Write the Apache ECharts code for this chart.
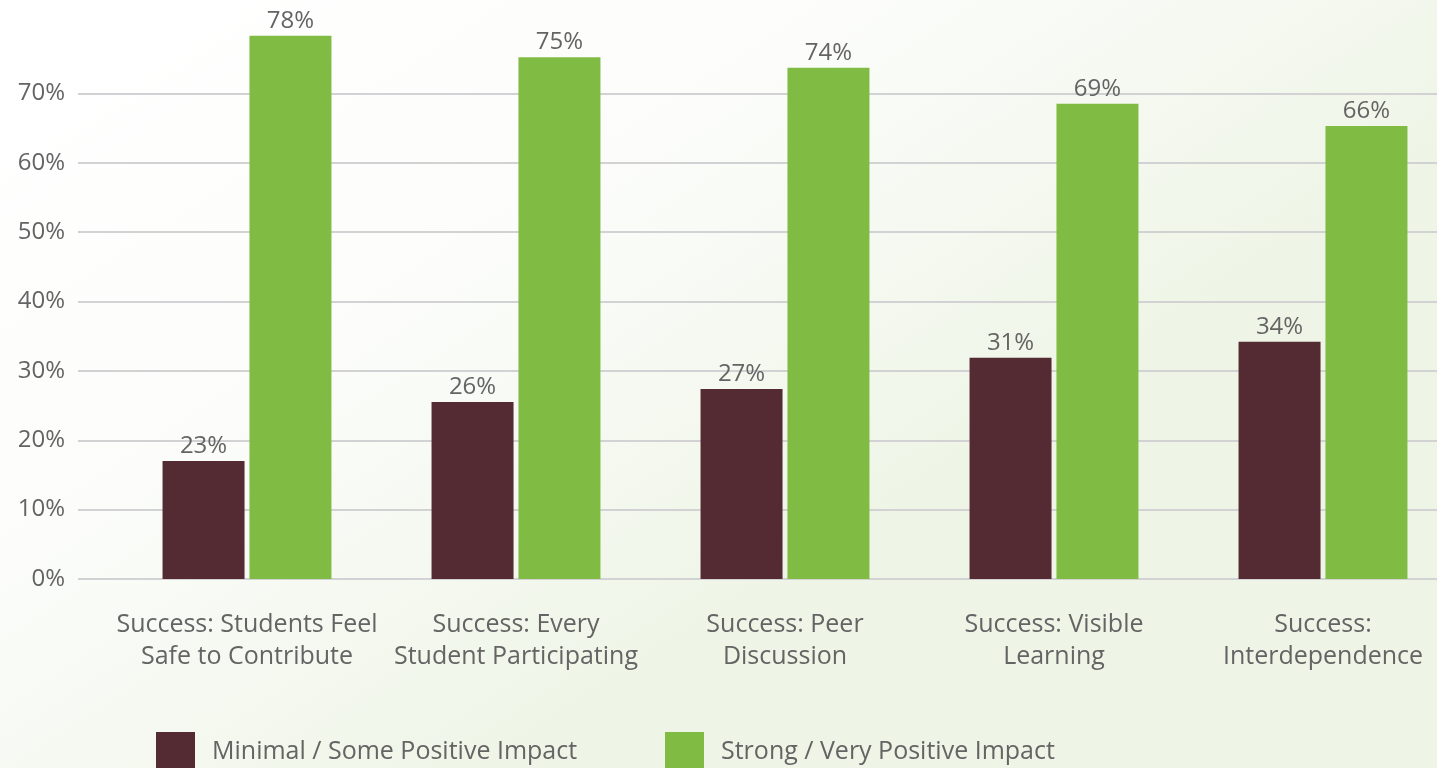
<!DOCTYPE html>
<html>
<head>
<meta charset="utf-8">
<script src="https://cdn.jsdelivr.net/npm/echarts@6/dist/echarts.min.js"></script>
<style>
html,body{margin:0;padding:0;width:1437px;height:768px;overflow:hidden;}
#c{width:1437px;height:768px;}
</style>
</head>
<body>
<div id="c"></div>
<script>
const categories = [
  "Success: Students Feel\nSafe to Contribute",
  "Success: Every\nStudent Participating",
  "Success: Peer\nDiscussion",
  "Success: Visible\nLearning",
  "Success:\nInterdependence"
];
const seriesNames = ["Minimal / Some Positive Impact", "Strong / Very Positive Impact"];
// bar heights as drawn in the picture
const minimalValues = [17.0, 25.5, 27.4, 31.9, 34.2];
const strongValues = [78.3, 75.2, 73.7, 68.5, 65.3];
// printed value labels
const minimalLabels = ["23%", "26%", "27%", "31%", "34%"];
const strongLabels = ["78%", "75%", "74%", "69%", "66%"];
const yMin = 0, yMax = 80, yStep = 10;

const FONT = "Open Sans";
const TXT = "#646464";
const gridColors = [];
for (let v = yMin; v <= yMax; v += yStep) gridColors.push(v < yMax ? "#d2d2d4" : "rgba(0,0,0,0)");

const chart = echarts.init(document.getElementById('c'), null, {renderer: 'canvas'});
chart.setOption({
  backgroundColor: {
    type: 'linear', x: 0, y: 0, x2: 0.35, y2: 1,
    colorStops: [
      {offset: 0, color: '#ffffff'},
      {offset: 0.5, color: '#fcfdfb'},
      {offset: 0.8, color: '#f4f8ef'},
      {offset: 1, color: '#eef5e6'}
    ]
  },
  textStyle: {fontFamily: FONT},
  animation: false,
  grid: [
    {left: 78, right: 0, top: 24, bottom: 189},
    {left: 247, right: 114, top: 24, bottom: 189}
  ],
  xAxis: [
    {gridIndex: 0, type: 'category', data: categories, show: false},
    {
      gridIndex: 1, type: 'category', data: categories, boundaryGap: false,
      axisLine: {show: false}, axisTick: {show: false}, splitLine: {show: false},
      axisLabel: {fontSize: 25, color: TXT, fontFamily: FONT, lineHeight: 32, margin: 30, interval: 0}
    }
  ],
  yAxis: [
    {
      gridIndex: 0, type: 'value', min: yMin, max: yMax, interval: yStep,
      axisLine: {show: false}, axisTick: {show: false},
      axisLabel: {
        fontSize: 24, color: TXT, fontFamily: FONT, margin: 13,
        formatter: v => (v >= yMax ? '' : v + '%')
      },
      splitLine: {show: true, lineStyle: {color: gridColors, width: 2}}
    },
    {gridIndex: 1, type: 'value', min: yMin, max: yMax, interval: yStep, show: false, splitLine: {show: false}}
  ],
  legend: [
    {
      left: 156, top: 732, padding: 0, itemWidth: 39, itemHeight: 39, icon: 'rect',
      textStyle: {fontSize: 25, color: TXT, fontFamily: FONT, padding: [4, 0, 0, 12]},
      data: [seriesNames[0]]
    },
    {
      left: 665, top: 732, padding: 0, itemWidth: 39, itemHeight: 39, icon: 'rect',
      textStyle: {fontSize: 25, color: TXT, fontFamily: FONT, padding: [4, 0, 0, 12]},
      data: [seriesNames[1]]
    }
  ],
  series: [
    {
      name: seriesNames[0], type: 'bar', xAxisIndex: 1, yAxisIndex: 1,
      data: minimalValues, barWidth: 82, barGap: '6%',
      itemStyle: {color: '#542a33'},
      label: {show: true, position: 'top', distance: 3, fontSize: 24, color: TXT, fontFamily: FONT,
        formatter: p => minimalLabels[p.dataIndex]}
    },
    {
      name: seriesNames[1], type: 'bar', xAxisIndex: 1, yAxisIndex: 1,
      data: strongValues, barWidth: 82, barGap: '6%',
      itemStyle: {color: '#80bc43'},
      label: {show: true, position: 'top', distance: 3, fontSize: 24, color: TXT, fontFamily: FONT,
        formatter: p => strongLabels[p.dataIndex]}
    }
  ]
});
</script>
</body>
</html>
